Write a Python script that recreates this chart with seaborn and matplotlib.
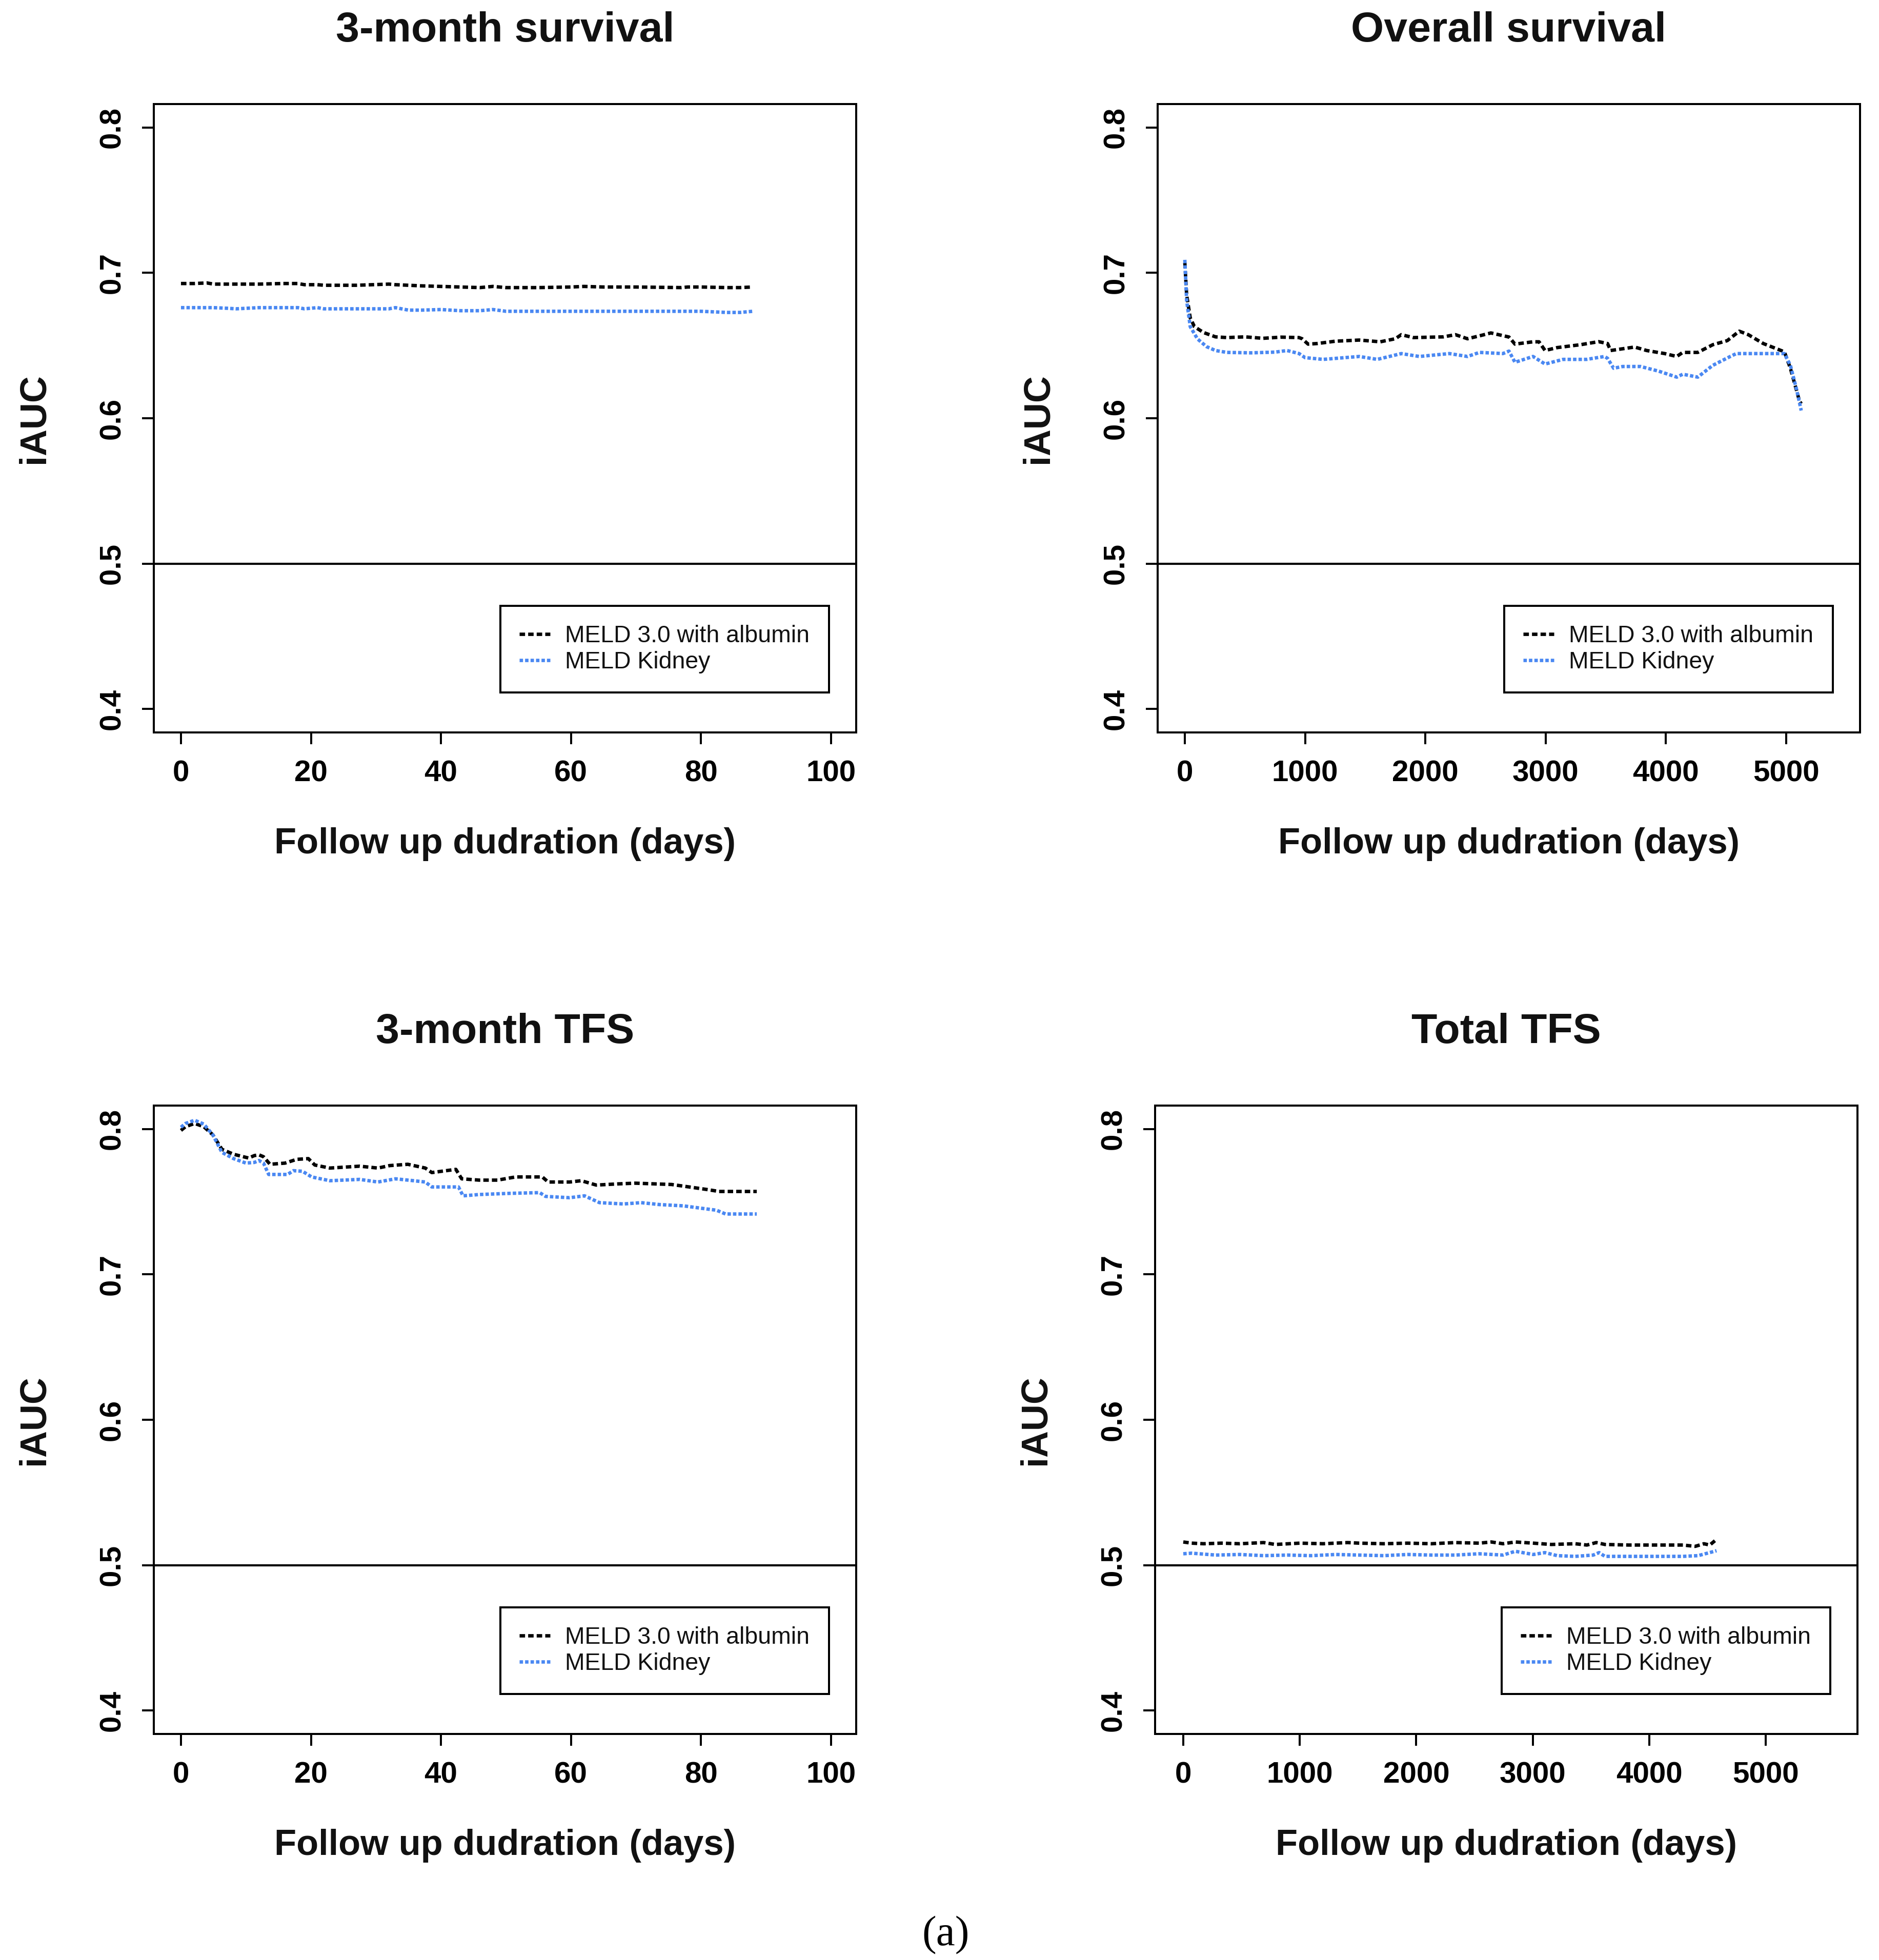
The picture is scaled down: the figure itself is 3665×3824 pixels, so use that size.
import matplotlib
matplotlib.use("Agg")
import matplotlib.pyplot as plt
import seaborn as sns

# ===============================
# Data
# ===============================
legend_labels = ["MELD 3.0 with albumin", "MELD Kidney"]
panel_titles = ["3-month survival", "Overall survival", "3-month TFS", "Total TFS"]
yticks = [0.4, 0.5, 0.6, 0.7, 0.8]
yticklabels = ["0.4", "0.5", "0.6", "0.7", "0.8"]
short_xticks = [0, 20, 40, 60, 80, 100]
long_xticks = [0, 1000, 2000, 3000, 4000, 5000]

# 3-month survival
s3_days = [0, 2, 4, 5, 7, 8.5, 12, 15.5, 18, 19, 21, 22, 27, 32, 33, 35, 37, 40,
           43, 46, 48, 50, 55, 60, 62, 65, 70, 77, 78, 80, 84, 86, 88]
s3_meld3 = [0.6927, 0.6927, 0.6931, 0.6923, 0.6923, 0.6923, 0.6923, 0.6927, 0.6927,
            0.6919, 0.6919, 0.6915, 0.6915, 0.6923, 0.6919, 0.6915, 0.6911, 0.6907,
            0.6903, 0.6899, 0.6907, 0.6899, 0.6899, 0.6903, 0.6907, 0.6903, 0.6903,
            0.6899, 0.6903, 0.6903, 0.6899, 0.6899, 0.6903]
s3_kidney = [0.6761, 0.6761, 0.6761, 0.6761, 0.6757, 0.6753, 0.6761, 0.6761, 0.6761,
             0.6753, 0.6761, 0.6753, 0.6753, 0.6753, 0.6761, 0.6744, 0.6744, 0.6748,
             0.6740, 0.6740, 0.6748, 0.6736, 0.6736, 0.6736, 0.6736, 0.6736, 0.6736,
             0.6736, 0.6736, 0.6736, 0.6728, 0.6728, 0.6736]

# Overall survival
os_days_meld3 = [0, 15, 45, 80, 155, 255, 350, 500, 650, 800, 950, 975, 1025, 1100,
                 1250, 1450, 1625, 1750, 1800, 1900, 2150, 2250, 2350, 2450, 2545,
                 2695, 2745, 2895, 2945, 2995, 3095, 3290, 3440, 3515, 3540, 3640,
                 3740, 3840, 3990, 4090, 4140, 4265, 4390, 4510, 4610, 4685, 4810,
                 4985, 5035, 5110, 5125]
os_meld3 = [0.707, 0.685, 0.669, 0.663, 0.659, 0.656, 0.6555, 0.6560, 0.6550, 0.6558,
            0.6555, 0.6547, 0.651, 0.6514, 0.653, 0.6538, 0.6526, 0.6547, 0.6575,
            0.6555, 0.656, 0.6575, 0.6547, 0.6567, 0.6587, 0.6559, 0.651, 0.6526,
            0.6526, 0.6466, 0.6486, 0.6506, 0.6527, 0.6514, 0.6466, 0.6478, 0.649,
            0.6466, 0.6445, 0.6425, 0.6453, 0.6453, 0.6506, 0.6534, 0.6599, 0.6575,
            0.6514, 0.6457, 0.6344, 0.612, 0.610]
os_days_kidney = [0, 15, 45, 105, 180, 255, 350, 550, 750, 850, 950, 1000, 1150, 1300,
                  1450, 1600, 1800, 1950, 2200, 2350, 2450, 2645, 2695, 2745, 2895,
                  2995, 3145, 3340, 3490, 3515, 3565, 3640, 3790, 3940, 4090, 4140,
                  4265, 4390, 4535, 4585, 4985, 5035, 5085, 5125]
os_kidney = [0.709, 0.681, 0.663, 0.6546, 0.6493, 0.6466, 0.6453, 0.6450, 0.6455,
             0.6466, 0.6445, 0.6417, 0.6405, 0.6415, 0.6425, 0.6405, 0.6445, 0.6425,
             0.6445, 0.6425, 0.6453, 0.6445, 0.6462, 0.6385, 0.6425, 0.6373, 0.6405,
             0.6405, 0.6425, 0.6412, 0.6344, 0.6356, 0.6356, 0.6324, 0.6283, 0.6303,
             0.6283, 0.6364, 0.6425, 0.6445, 0.6445, 0.6364, 0.6203, 0.6053]

# 3-month TFS
t3_days_meld3 = [0, 0.7, 2.1, 3.5, 4.9, 6.3, 8.1, 10.4, 11.3, 12, 12.7, 13.7, 16, 17.8,
                 19.6, 20.6, 22.9, 27.5, 30.3, 32.1, 34.9, 37.6, 38.6, 42.3, 43.2,
                 45.9, 48.7, 51.5, 55.6, 56.5, 59.8, 61.6, 63.9, 67.2, 69.9, 75.5,
                 78.2, 81, 82.8, 85.6, 88.6]
t3_meld3 = [0.7991, 0.8017, 0.8039, 0.8017, 0.7961, 0.7861, 0.7827, 0.7801, 0.7818,
            0.7823, 0.7810, 0.7758, 0.7766, 0.7792, 0.7797, 0.7753, 0.7732, 0.7745,
            0.7732, 0.7749, 0.7758, 0.7732, 0.7701, 0.7723, 0.7658, 0.7649, 0.7649,
            0.7671, 0.7671, 0.7636, 0.7636, 0.7645, 0.7615, 0.7623, 0.7628, 0.7619,
            0.7602, 0.7584, 0.7571, 0.7571, 0.7571]
t3_days_kidney = [0, 0.7, 2.1, 3.5, 4.9, 6.3, 8.1, 10, 11.3, 12, 12.7, 13.5, 16.4, 17.3,
                  18.7, 20.1, 22.9, 27.5, 30.3, 33, 35.8, 37.6, 38.6, 42.7, 43.4,
                  45.9, 50.6, 55.2, 56.1, 59.8, 62.1, 64.4, 68.1, 70.8, 73.6, 77.3,
                  81, 82.4, 83.8, 88.6]
t3_kidney = [0.8013, 0.8039, 0.8061, 0.8035, 0.7961, 0.7840, 0.7797, 0.7766, 0.7771,
             0.7784, 0.7766, 0.7688, 0.7688, 0.7714, 0.7710, 0.7671, 0.7645, 0.7654,
             0.7636, 0.7658, 0.7645, 0.7636, 0.7602, 0.7602, 0.7541, 0.7550, 0.7558,
             0.7563, 0.7537, 0.7528, 0.7541, 0.7494, 0.7485, 0.7494, 0.7481, 0.7472,
             0.7450, 0.7442, 0.7416, 0.7416]

# Total TFS
tt_days_meld3 = [0, 72, 175, 330, 485, 690, 790, 1000, 1200, 1410, 1510, 1720, 1925,
                 2130, 2335, 2540, 2645, 2745, 2850, 3005, 3160, 3365, 3465, 3545,
                 3620, 3825, 4085, 4290, 4395, 4470, 4520, 4578]
tt_meld3 = [0.5159, 0.5151, 0.5147, 0.5151, 0.5147, 0.5155, 0.5142, 0.5151, 0.5147,
            0.5155, 0.5151, 0.5147, 0.5151, 0.5147, 0.5155, 0.5151, 0.5159, 0.5147,
            0.5159, 0.5151, 0.5142, 0.5147, 0.5138, 0.5155, 0.5142, 0.5138, 0.5138,
            0.5138, 0.5129, 0.5147, 0.5138, 0.5177]
tt_days_kidney = [0, 72, 280, 485, 690, 895, 1100, 1310, 1510, 1720, 1925, 2130, 2335,
                  2540, 2745, 2850, 3005, 3105, 3210, 3365, 3520, 3570, 3620, 3825,
                  4085, 4290, 4420, 4500, 4578]
tt_kidney = [0.5078, 0.5082, 0.5069, 0.5073, 0.5065, 0.5069, 0.5065, 0.5073, 0.5069,
             0.5065, 0.5073, 0.5069, 0.5069, 0.5078, 0.5069, 0.5095, 0.5073, 0.5086,
             0.5065, 0.5060, 0.5069, 0.5086, 0.5060, 0.5060, 0.5060, 0.5060, 0.5065,
             0.5082, 0.5099]

# ===============================
# Style
# ===============================
sns.set_style("white")
plt.rcParams['font.family'] = ['Liberation Sans', 'DejaVu Sans']
plt.rcParams['text.color'] = '#111111'
plt.rcParams['axes.labelcolor'] = '#111111'
plt.rcParams['xtick.color'] = 'black'
plt.rcParams['ytick.color'] = 'black'

BLUE = '#4A88F2'
W, H = 3666, 3824
DPI = 200
fig = plt.figure(figsize=(W / DPI, H / DPI), dpi=DPI)


def px_axes(left, top, right, bottom):
    return fig.add_axes([left / W, 1 - bottom / H, (right - left) / W, (bottom - top) / H])


def draw_panel(ax, title, d1, v1, d2, v2, xlim, xticks):
    sns.lineplot(x=d1, y=v1, ax=ax, color='black', lw=2.4, linestyle=(0, (1.6, 0.9)),
                 label=legend_labels[0], estimator=None, sort=False)
    sns.lineplot(x=d2, y=v2, ax=ax, color=BLUE, lw=2.4, linestyle=(0, (1.0, 0.6)),
                 label=legend_labels[1], estimator=None, sort=False)
    ax.axhline(0.5, color='black', lw=1.5)

    ax.set_xlim(xlim)
    ax.set_ylim(0.3838, 0.8162)
    ax.set_xticks(xticks)
    ax.set_xticklabels([str(t) for t in xticks], fontweight='bold')
    ax.set_yticks(yticks)
    ax.set_yticklabels(yticklabels, rotation=90, va='center', fontweight='bold')
    ax.tick_params(direction='out', length=8.3, width=1.44, pad=11, labelsize=21,
                   bottom=True, left=True, colors='black')
    for sp in ax.spines.values():
        sp.set_visible(True)
        sp.set_linewidth(1.44)
        sp.set_color('black')

    ax.set_title(title, fontsize=29.7, fontweight='bold', pad=44)
    ax.set_xlabel('Follow up dudration (days)', fontsize=25.4, fontweight='bold', labelpad=28)
    ax.set_ylabel('iAUC', fontsize=25.9, fontweight='bold', labelpad=33)

    leg = ax.legend(loc='lower right', bbox_to_anchor=(0.961, 0.0636), frameon=True,
                    fancybox=False, edgecolor='black', framealpha=1, fontsize=16.7,
                    handlelength=1.3, handletextpad=0.63, borderpad=0.8,
                    labelspacing=0.15, borderaxespad=0)
    leg.get_frame().set_linewidth(1.44)


ax1 = px_axes(300, 203, 1670, 1429)
ax2 = px_axes(2258, 203, 3628, 1429)
ax3 = px_axes(300, 2157, 1670, 3383)
ax4 = px_axes(2253, 2157, 3623, 3383)

draw_panel(ax1, panel_titles[0], s3_days, s3_meld3, s3_days, s3_kidney,
           (-4.18, 103.9), short_xticks)
draw_panel(ax2, panel_titles[1], os_days_meld3, os_meld3, os_days_kidney, os_kidney,
           (-226, 5614), long_xticks)
draw_panel(ax3, panel_titles[2], t3_days_meld3, t3_meld3, t3_days_kidney, t3_kidney,
           (-4.18, 103.9), short_xticks)
draw_panel(ax4, panel_titles[3], tt_days_meld3, tt_meld3, tt_days_kidney, tt_kidney,
           (-242, 5788), long_xticks)

fig.text(1845 / W, 1 - 3776 / H, '(a)', ha='center', va='center', fontsize=30,
         family=['Liberation Serif', 'DejaVu Serif'], color='black')

fig.savefig('out.png', dpi=DPI)
plt.close(fig)
